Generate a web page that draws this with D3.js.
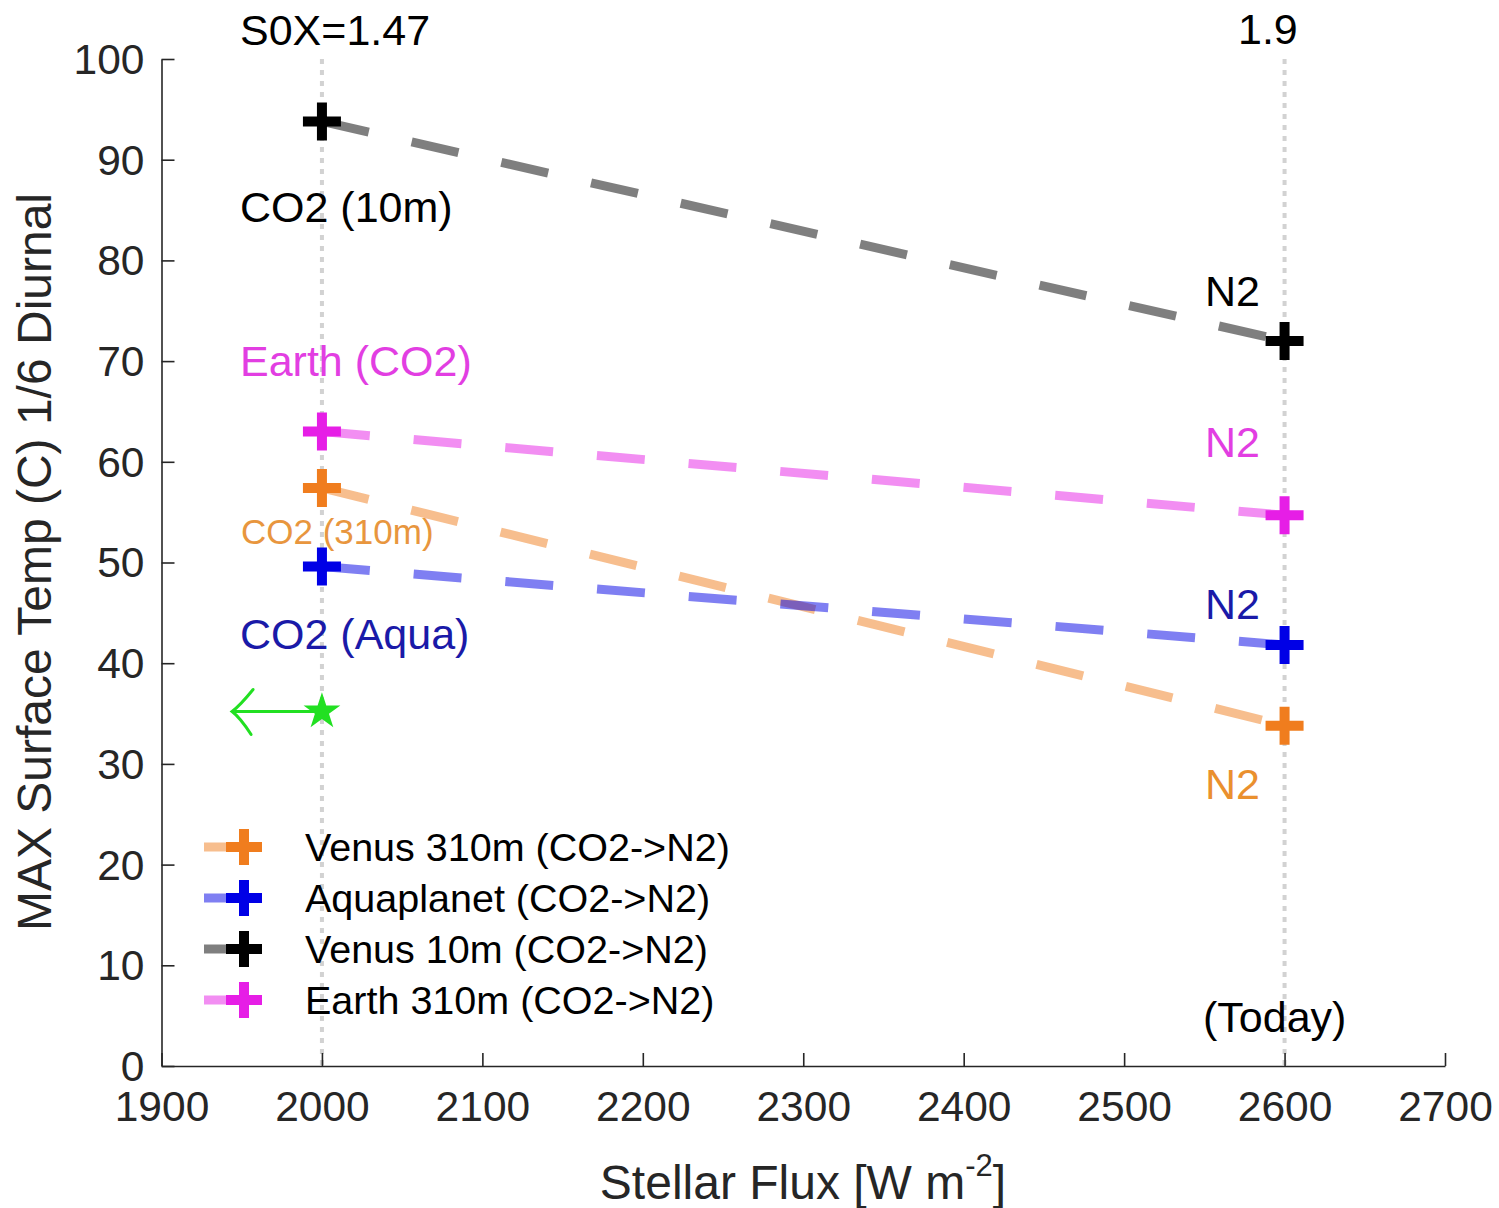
<!DOCTYPE html>
<html>
<head>
<meta charset="utf-8">
<script src="https://cdn.jsdelivr.net/npm/d3@7"></script>
<style>
  html, body { margin: 0; padding: 0; background: #fff; }
  svg { display: block; font-family: "Liberation Sans", Arial, Helvetica, sans-serif; }
</style>
</head>
<body>
<svg id="chart" width="1499" height="1208"></svg>
<script>
// Stellar flux at the two experiment points [W m^-2]
const flux = [2000, 2600];
// Max surface temperature (C), 1/6 diurnal, CO2 atmosphere at 2000 -> N2 at 2600
const venus310 = [57.4, 33.8];
const aqua = [49.6, 41.8];
const venus10 = [93.8, 72.0];
const earth310 = [63.0, 54.7];
// Reference point (green star) and arrow end
const refFlux = 2000, refTemp = 35.2, arrowEndFlux = 1944;

const xTicks = [1900, 2000, 2100, 2200, 2300, 2400, 2500, 2600, 2700];
const yTicks = [0, 10, 20, 30, 40, 50, 60, 70, 80, 90, 100];

const seriesNames = ["Venus 310m (CO2->N2)", "Aquaplanet (CO2->N2)", "Venus 10m (CO2->N2)", "Earth 310m (CO2->N2)"];
const seriesValues = [venus310, aqua, venus10, earth310];
const seriesColors = ["#f07d1e", "#0000e6", "#000000", "#e61ee6"];

const svg = d3.select("#chart");
const plotLeft = 161.5, plotRight = 1445, plotTop = 59, plotBottom = 1066;
const x = d3.scaleLinear().domain([1900, 2700]).range([plotLeft, plotRight]);
const y = d3.scaleLinear().domain([0, 100]).range([plotBottom, plotTop]);
const axisColor = "#262626";

// vertical dotted guides at the two flux values
svg.append("g").selectAll("line").data(flux).join("line")
  .attr("x1", d => x(d)).attr("x2", d => x(d))
  .attr("y1", plotTop).attr("y2", plotBottom)
  .attr("stroke", "#d2d2d2").attr("stroke-width", 4)
  .attr("stroke-dasharray", "5,6");

// axes (ticks pointing inward)
const xAxis = d3.axisBottom(x).tickValues(xTicks).tickFormat(d3.format("d")).tickSizeInner(-13).tickSizeOuter(0).tickPadding(25);
const yAxis = d3.axisLeft(y).tickValues(yTicks).tickFormat(d3.format("d")).tickSizeInner(-13).tickSizeOuter(0).tickPadding(17);

const gx = svg.append("g").attr("transform", `translate(0,${plotBottom})`).call(xAxis);
const gy = svg.append("g").attr("transform", `translate(${plotLeft},0)`).call(yAxis);
[gx, gy].forEach(g => {
  g.select(".domain").attr("stroke", axisColor).attr("stroke-width", 1.6);
  g.selectAll(".tick line").attr("stroke", axisColor).attr("stroke-width", 1.6);
  g.selectAll(".tick text").attr("fill", axisColor).attr("font-size", 42.5)
    .attr("font-family", "Liberation Sans, Arial, sans-serif");
});
gx.selectAll(".tick text").attr("dy", "0.71em");
gy.selectAll(".tick text").attr("dy", "0.34em");

// dashed connecting lines (semi-transparent series colour)
const line = d3.line().x((d, i) => x(flux[i])).y(d => y(d));
const gLines = svg.append("g");
seriesValues.forEach((vals, k) => {
  gLines.append("path").datum(vals)
    .attr("d", line)
    .attr("fill", "none")
    .attr("stroke", seriesColors[k])
    .attr("stroke-opacity", 0.5)
    .attr("stroke-width", 9)
    .attr("stroke-dasharray", "48,44");
});

// plus markers
const plusPath = s => `M${-s},0H${s}M0,${-s}V${s}`;
const gMarks = svg.append("g");
seriesValues.forEach((vals, k) => {
  gMarks.append("g").selectAll("path").data(vals).join("path")
    .attr("transform", (d, i) => `translate(${x(flux[i])},${y(d)})`)
    .attr("d", plusPath(19))
    .attr("stroke", seriesColors[k])
    .attr("stroke-width", 10)
    .attr("fill", "none");
});

// green reference star with arrow pointing to lower flux
const green = "#22e022";
const ax = x(refFlux), ay = y(refTemp), tipX = x(arrowEndFlux);
svg.append("path")
  .attr("d", `M${ax},${ay}H${tipX + 2}`)
  .attr("stroke", green).attr("stroke-width", 3).attr("fill", "none");
svg.append("path")
  .attr("d", `M${tipX + 21},${ay - 22} Q${tipX + 8},${ay - 6} ${tipX},${ay} Q${tipX + 8},${ay + 6} ${tipX + 19},${ay + 23}`)
  .attr("stroke", green).attr("stroke-width", 3).attr("fill", "none").attr("stroke-linecap", "round");
svg.append("path")
  .attr("transform", `translate(${ax},${ay})`)
  .attr("d", d3.symbol(d3.symbolStar, 420)())
  .attr("fill", green);

// text annotations
const notes = [
  { t: "S0X=1.47", x: 240, y: 45, c: "#000", s: 43 },
  { t: "1.9", x: 1238, y: 44, c: "#000", s: 43 },
  { t: "CO2 (10m)", x: 240, y: 222, c: "#000", s: 43 },
  { t: "Earth (CO2)", x: 240, y: 376, c: "#e23ee2", s: 43 },
  { t: "CO2 (310m)", x: 241, y: 544, c: "#e8963e", s: 35 },
  { t: "CO2 (Aqua)", x: 240, y: 649, c: "#1a1aa8", s: 43 },
  { t: "N2", x: 1205, y: 306, c: "#000", s: 43 },
  { t: "N2", x: 1205, y: 457, c: "#e23ee2", s: 43 },
  { t: "N2", x: 1205, y: 619, c: "#1a1aa8", s: 43 },
  { t: "N2", x: 1205, y: 799, c: "#ea902e", s: 43 },
  { t: "(Today)", x: 1203, y: 1032, c: "#000", s: 43 }
];
svg.append("g").selectAll("text").data(notes).join("text")
  .attr("x", d => d.x).attr("y", d => d.y)
  .attr("fill", d => d.c).attr("font-size", d => d.s)
  .text(d => d.t);

// legend
const legRows = [847, 898, 949, 1000];
const gLeg = svg.append("g");
seriesNames.forEach((name, k) => {
  const ry = legRows[k];
  gLeg.append("line").attr("x1", 204).attr("x2", 242).attr("y1", ry).attr("y2", ry)
    .attr("stroke", seriesColors[k]).attr("stroke-opacity", 0.5).attr("stroke-width", 9);
  gLeg.append("path").attr("transform", `translate(244,${ry})`)
    .attr("d", plusPath(18)).attr("stroke", seriesColors[k]).attr("stroke-width", 10);
  gLeg.append("text").attr("x", 305).attr("y", ry + 14)
    .attr("font-size", 39.5).attr("fill", "#000").text(name);
});

// axis labels
svg.append("text")
  .attr("transform", `translate(51,562) rotate(-90)`)
  .attr("text-anchor", "middle").attr("font-size", 48).attr("fill", axisColor)
  .text("MAX Surface Temp (C) 1/6 Diurnal");

const xl = svg.append("text").attr("x", 803).attr("y", 1199)
  .attr("text-anchor", "middle").attr("font-size", 48).attr("fill", axisColor);
xl.append("tspan").text("Stellar Flux [W m");
xl.append("tspan").attr("font-size", 31).attr("dy", -23).text("-2");
xl.append("tspan").attr("dy", 23).text("]");
</script>
</body>
</html>
